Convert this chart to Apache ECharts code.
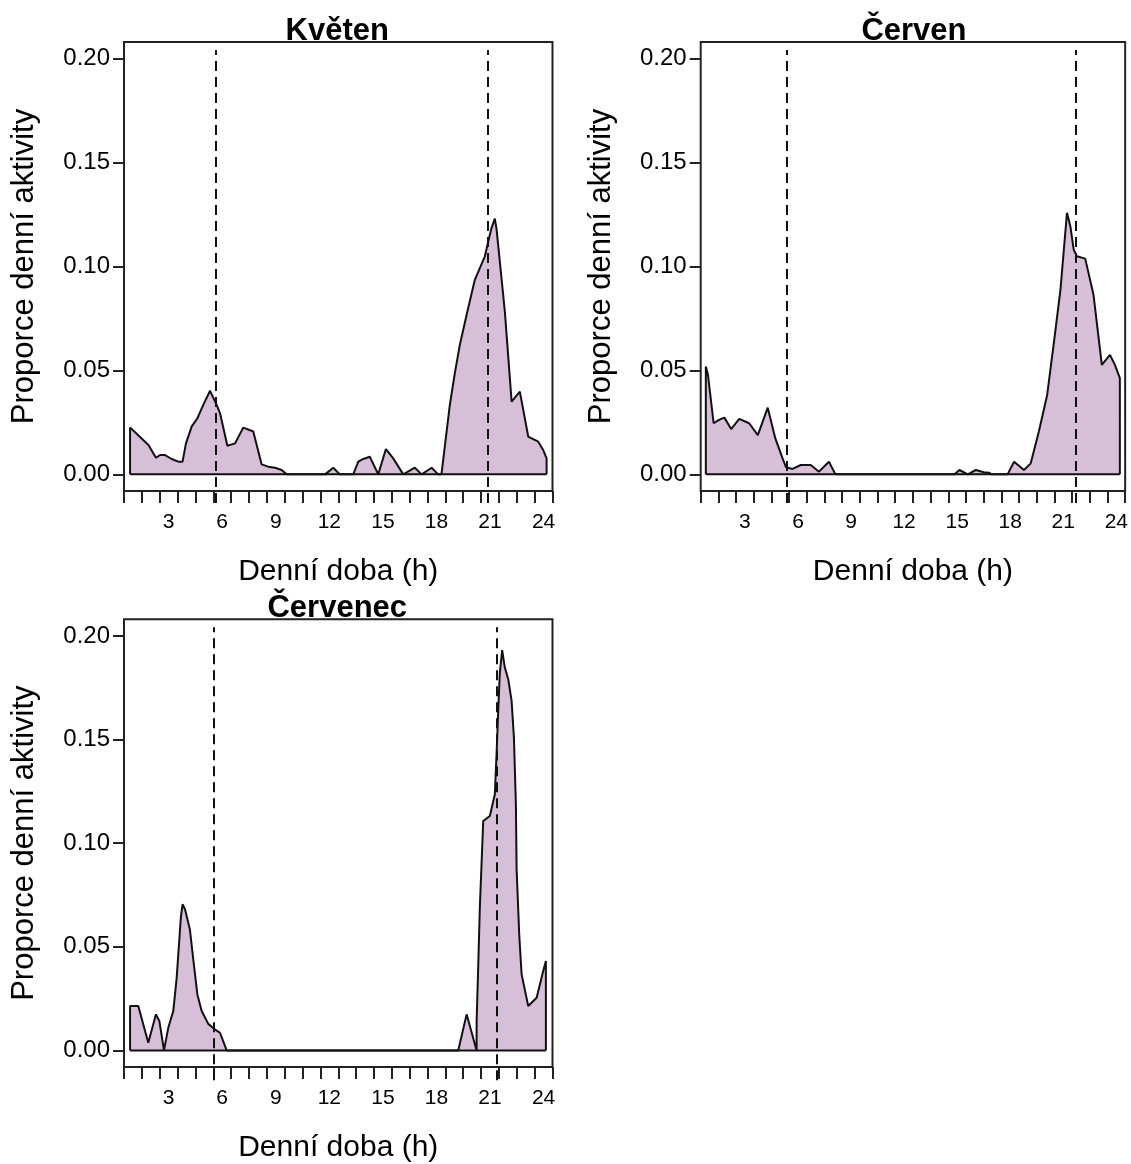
<!DOCTYPE html>
<html>
<head>
<meta charset="utf-8">
<script src="https://cdn.jsdelivr.net/npm/echarts@6/dist/echarts.min.js"></script>
<style>
  html, body { margin: 0; padding: 0; background: #fff; }
  #chart { width: 1131px; height: 1164px; }
</style>
</head>
<body>
<div id="chart"></div>
<script>
// hodiny (h) a proporce denní aktivity
const kvetenHours = [0.84, 1.87, 2.29, 2.52, 2.80, 3.17, 3.54, 3.78, 3.97, 4.29, 4.61, 4.94, 5.32, 5.69, 5.88, 6.29, 6.72, 7.18, 7.74, 8.21, 8.58, 8.96, 9.33, 9.61, 11.76, 12.22, 12.59, 13.34, 13.62, 13.90, 14.27, 14.74, 15.17, 15.58, 16.14, 16.79, 17.17, 17.73, 18.10, 18.28, 18.75, 19.03, 19.31, 19.69, 20.15, 20.71, 20.99, 21.09, 21.27, 21.37, 21.83, 22.21, 22.67, 23.14, 23.70, 23.98, 24.17]
const kvetenValues = [0.0225, 0.0141, 0.0080, 0.0093, 0.0093, 0.0074, 0.0061, 0.0061, 0.0149, 0.0230, 0.0270, 0.0334, 0.0402, 0.0334, 0.0294, 0.0138, 0.0149, 0.0225, 0.0206, 0.0048, 0.0037, 0.0032, 0.0021, 0, 0, 0.0032, 0, 0, 0.0061, 0.0074, 0.0085, 0, 0.0122, 0.0077, 0, 0.0032, 0, 0.0032, 0, 0, 0.0334, 0.0487, 0.0623, 0.0768, 0.0936, 0.1049, 0.1153, 0.1186, 0.1230, 0.1177, 0.0784, 0.0350, 0.0398, 0.0182, 0.0157, 0.0117, 0.0077]

const cervenHours = [0.79, 0.91, 1.23, 1.53, 1.84, 2.22, 2.68, 3.24, 3.73, 4.29, 4.72, 5.13, 5.32, 5.69, 6.16, 6.72, 7.19, 7.75, 8.12, 14.85, 15.13, 15.60, 16.06, 16.50, 16.80, 16.95, 17.85, 18.22, 18.78, 19.16, 19.62, 20.09, 20.55, 20.84, 21.21, 21.40, 21.59, 21.77, 22.24, 22.71, 23.18, 23.64, 23.92, 24.20]
const cervenValues = [0.0519, 0.0479, 0.0246, 0.0262, 0.0273, 0.0218, 0.0267, 0.0246, 0.0189, 0.0321, 0.0173, 0.0077, 0.0035, 0.0026, 0.0045, 0.0045, 0.0013, 0.0061, 0, 0, 0.0021, 0, 0.0021, 0.0010, 0.0008, 0, 0, 0.0061, 0.0021, 0.0053, 0.0206, 0.0382, 0.0688, 0.0888, 0.1258, 0.1194, 0.1081, 0.1049, 0.1038, 0.0864, 0.0527, 0.0575, 0.0527, 0.0463]

const cervenecHours = [0.84, 1.30, 1.86, 2.29, 2.48, 2.74, 2.98, 3.26, 3.45, 3.58, 3.69, 3.78, 3.92, 4.19, 4.38, 4.61, 4.85, 5.22, 5.60, 5.88, 6.25, 19.22, 19.69, 20.25, 20.25, 20.34, 20.43, 20.62, 20.99, 21.27, 21.37, 21.46, 21.55, 21.68, 21.83, 22.02, 22.21, 22.34, 22.45, 22.49, 22.64, 22.77, 23.14, 23.61, 23.98, 24.13]
const cervenecValues = [0.0214, 0.0214, 0.0037, 0.0174, 0.0142, 0, 0.0109, 0.0190, 0.0350, 0.0512, 0.0648, 0.0705, 0.0680, 0.0584, 0.0439, 0.0270, 0.0190, 0.0128, 0.0101, 0.0085, 0, 0, 0.0174, 0, 0.0141, 0.0407, 0.0688, 0.1107, 0.1131, 0.1235, 0.1436, 0.1638, 0.1822, 0.1931, 0.1847, 0.1791, 0.1686, 0.1509, 0.1187, 0.0874, 0.0552, 0.0367, 0.0214, 0.0254, 0.0383, 0.0431]

// východ a západ slunce (svislé čárkované čáry)
const kvetenSun = [5.65, 20.90]
const cervenSun = [5.32, 21.48]
const cervenecSun = [5.54, 21.37]

const xTicks = [0.5, 1.5, 2.5, 3.5, 4.5, 5.5, 6.5, 7.5, 8.5, 9.5, 10.5, 11.5, 12.5, 13.5, 14.5, 15.5, 16.5, 17.5, 18.5, 19.5, 20.5, 21.5, 22.5, 23.5, 24.5]
const xLabels = [3, 6, 9, 12, 15, 18, 21, 24]
const yTicks = [0, 0.05, 0.1, 0.15, 0.2]

const panelTitles = ['Květen', 'Červen', 'Červenec']
const xName = 'Denní doba (h)'
const yName = 'Proporce denní aktivity'

const FONT = '"Liberation Sans", Arial, sans-serif'
const fill = '#d8bfd8'

const panels = [
  { title: panelTitles[0], hours: kvetenHours, values: kvetenValues, sun: kvetenSun, left: 124, top: 42 },
  { title: panelTitles[1], hours: cervenHours, values: cervenValues, sun: cervenSun, left: 700.7, top: 42 },
  { title: panelTitles[2], hours: cervenecHours, values: cervenecValues, sun: cervenecSun, left: 124, top: 619.3 },
]
const boxW = 428.5
const boxH = 449

const option = {
  animation: false,
  backgroundColor: '#fff',
  textStyle: { fontFamily: FONT },
  title: [],
  grid: [],
  xAxis: [],
  yAxis: [],
  series: [],
}

panels.forEach((p, i) => {
  const g = i * 2
  // rámeček s daty
  option.grid.push({
    left: p.left, top: p.top, width: boxW, height: boxH,
    show: true, borderColor: '#222', borderWidth: 2, backgroundColor: 'transparent',
  })
  // pomocná mřížka pro čárkované čáry (přesahuje rámeček dolů)
  option.grid.push({
    left: p.left, top: p.top + 8, width: boxW, height: boxH + 4,
    show: false,
  })

  option.title.push({
    text: p.title,
    left: p.left + boxW / 2 - 1,
    top: p.top - 26,
    padding: 0,
    textAlign: 'center',
    textStyle: { fontFamily: FONT, fontSize: 31, fontWeight: 'bold', color: '#000' },
  })

  option.xAxis.push({
    type: 'value', gridIndex: g, min: 0.5, max: 24.5,
    name: xName, nameLocation: 'middle', nameGap: 66,
    nameTextStyle: { fontFamily: FONT, fontSize: 30, color: '#000' },
    axisLine: { show: false, onZero: false },
    axisTick: { show: true, length: 12, customValues: xTicks, lineStyle: { color: '#222', width: 2 } },
    axisLabel: { customValues: xLabels, fontSize: 21, color: '#000', margin: 21, fontFamily: FONT },
    splitLine: { show: false },
  })
  option.xAxis.push({
    type: 'value', gridIndex: g + 1, min: 0.5, max: 24.5, show: false,
  })

  option.yAxis.push({
    type: 'value', gridIndex: g, min: -0.008, max: 0.208,
    name: yName, nameLocation: 'middle', nameGap: 84, nameRotate: 90,
    nameTextStyle: { fontFamily: FONT, fontSize: 31, color: '#000' },
    axisLine: { show: false, onZero: false },
    axisTick: { show: true, length: 11, customValues: yTicks, lineStyle: { color: '#222', width: 2 } },
    axisLabel: {
      customValues: yTicks, fontSize: 24, color: '#000', margin: 14, fontFamily: FONT,
      formatter: (v) => v.toFixed(2),
    },
    splitLine: { show: false },
  })
  option.yAxis.push({
    type: 'value', gridIndex: g + 1, min: 0, max: 1, show: false,
  })

  const n = p.hours.length
  const pts = p.hours.map((h, k) => [h, p.values[k]])
  const polygon = [[p.hours[0], 0]].concat(pts, [[p.hours[n - 1], 0]])

  option.series.push({
    type: 'line', xAxisIndex: g, yAxisIndex: g,
    data: polygon, symbol: 'none', silent: true,
    lineStyle: { color: '#111', width: 2 },
    areaStyle: { color: fill, opacity: 1 },
    z: 2,
  })
  option.series.push({
    type: 'line', xAxisIndex: g, yAxisIndex: g,
    data: [[p.hours[0], 0], [p.hours[n - 1], 0]], symbol: 'none', silent: true,
    lineStyle: { color: '#111', width: 2 },
    z: 3,
  })
  option.series.push({
    type: 'line', xAxisIndex: g + 1, yAxisIndex: g + 1,
    data: [], symbol: 'none', silent: true,
    markLine: {
      symbol: 'none', silent: true, animation: false,
      label: { show: false },
      lineStyle: { color: '#111', width: 2, type: [10, 6] },
      data: p.sun.map((s) => ({ xAxis: s })),
    },
    z: 4,
  })
})

const chart = echarts.init(document.getElementById('chart'), null, { renderer: 'canvas' })
chart.setOption(option)
window.addEventListener('resize', () => chart.resize())
</script>
</body>
</html>
